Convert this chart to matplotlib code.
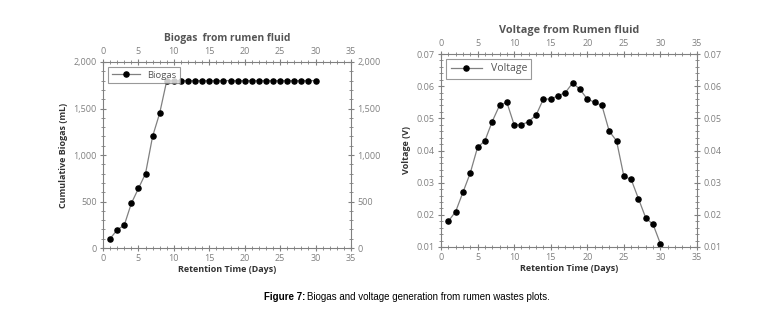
import matplotlib
matplotlib.use("Agg")
import matplotlib.pyplot as plt
from matplotlib.ticker import MultipleLocator, FuncFormatter

days = list(range(1, 31))
biogas = [100, 195, 245, 480, 640, 800, 1200, 1450, 1800] + [1800] * 21
voltage = [0.018, 0.021, 0.027, 0.033, 0.041, 0.043, 0.049, 0.054, 0.055, 0.048,
           0.048, 0.049, 0.051, 0.056, 0.056, 0.057, 0.058, 0.061, 0.059, 0.056,
           0.055, 0.054, 0.046, 0.043, 0.032, 0.031, 0.025, 0.019, 0.017, 0.011]

plt.rcParams['font.family'] = ['Open Sans', 'DejaVu Sans']
GRAY = '#808080'
TXT = '#555555'

fig = plt.figure(figsize=(7.73, 3.15), dpi=100)
ax1 = fig.add_axes([103/773, 1-248/315, 248/773, 186/315])
ax2 = fig.add_axes([441/773, 1-247/315, 256/773, 193/315])


def style(ax, ymajor, yminor, fmt):
    ax.set_xlim(0, 35)
    ax.xaxis.set_major_locator(MultipleLocator(5))
    ax.xaxis.set_minor_locator(MultipleLocator(1))
    ax.yaxis.set_major_locator(MultipleLocator(ymajor))
    ax.yaxis.set_minor_locator(MultipleLocator(yminor))
    ax.yaxis.set_major_formatter(FuncFormatter(fmt))
    ax.tick_params(which='both', top=True, right=True, labeltop=True,
                   labelright=True, direction='inout', color=GRAY,
                   labelcolor=GRAY, labelsize=6.5, pad=2)
    ax.tick_params(which='major', length=5, width=0.8)
    ax.tick_params(which='minor', length=3, width=0.6)
    for s in ax.spines.values():
        s.set_color(GRAY)
        s.set_linewidth(0.8)


def legend(ax, size):
    leg = ax.legend(loc='upper left', fontsize=size, fancybox=False,
                    edgecolor=GRAY, handlelength=3, borderpad=0.4)
    leg.get_frame().set_linewidth(0.8)
    for t in leg.get_texts():
        t.set_color(TXT)


ax1.plot(days, biogas, color=GRAY, lw=0.9, marker='o', ms=3.7,
         mfc='black', mec='black', label='Biogas')
ax1.set_ylim(0, 2000)
style(ax1, 500, 100, lambda v, p: f"{int(v):,}")
ax1.set_title('Biogas  from rumen fluid', fontsize=7.4, fontweight='bold',
              color=TXT, pad=4)
ax1.set_xlabel('Retention Time (Days)', fontsize=6.5, fontweight='bold',
               color='#333333', labelpad=1)
ax1.set_ylabel('Cumulative Biogas (mL)', fontsize=6.5, fontweight='bold',
               color='#333333', labelpad=4)
legend(ax1, 6.8)

ax2.plot(days, voltage, color=GRAY, lw=0.9, marker='o', ms=3.7,
         mfc='black', mec='black', label='Voltage')
ax2.set_ylim(0.01, 0.07)
style(ax2, 0.01, 0.002, lambda v, p: f"{v:.2f}")
ax2.set_title('Voltage from Rumen fluid', fontsize=7.8, fontweight='bold',
              color=TXT, pad=4)
ax2.set_xlabel('Retention Time (Days)', fontsize=6.5, fontweight='bold',
               color='#333333', labelpad=1)
ax2.set_ylabel('Voltage (V)', fontsize=6.5, fontweight='bold',
               color='#333333', labelpad=4)
legend(ax2, 7.6)

fig.text(0.395, 1-297/315, 'Figure 7:', fontsize=7, fontweight='bold',
         family='Liberation Sans', ha='right', va='center')
fig.text(0.397, 1-297/315, 'Biogas and voltage generation from rumen wastes plots.',
         fontsize=7, family='Liberation Sans', ha='left', va='center')

fig.savefig('out.png', dpi=100)
